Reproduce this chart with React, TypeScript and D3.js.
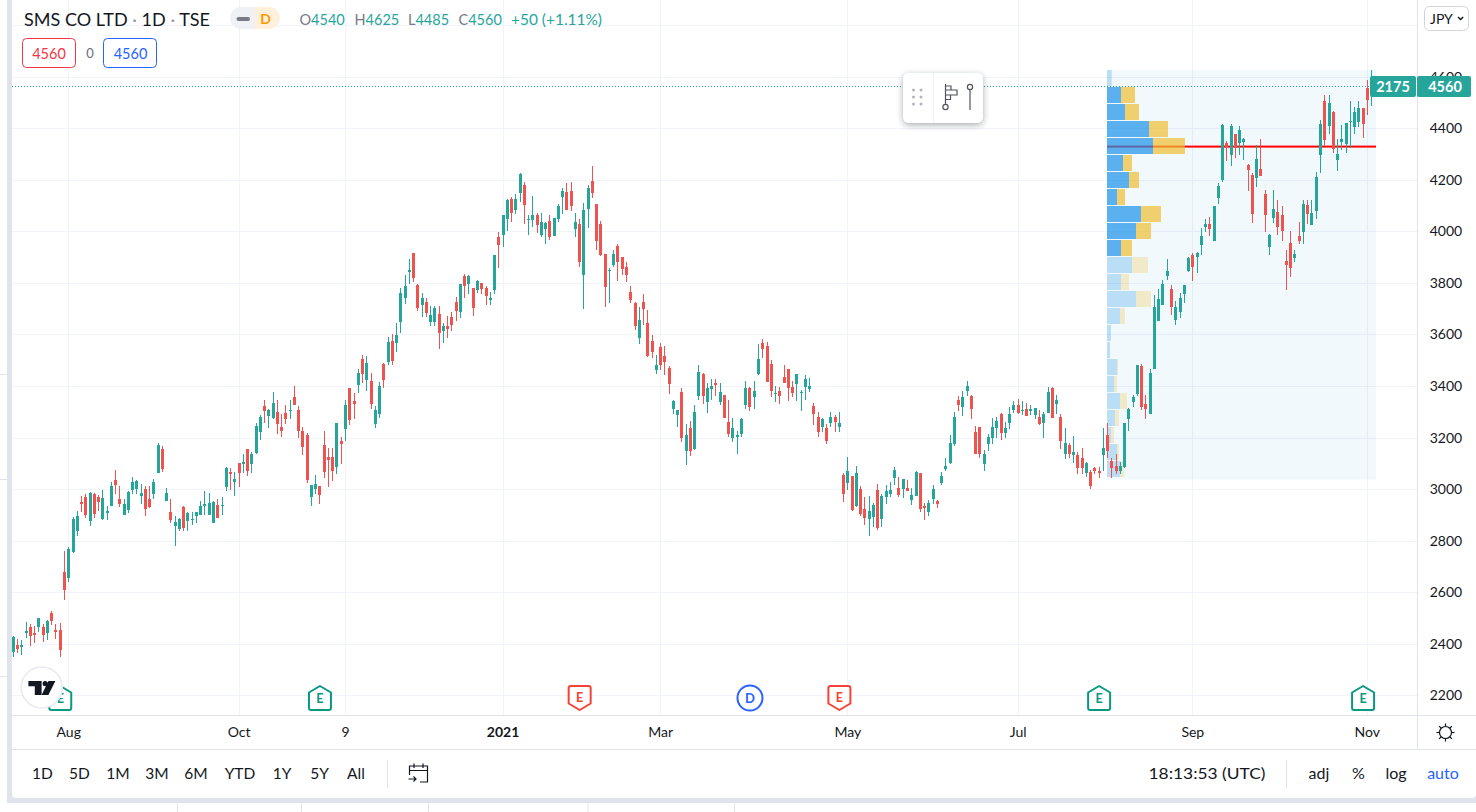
import React from "react";
import * as d3 from "d3";

type Bar = [number, number, number, number]; // open, high, low, close

const barsJul2020: Bar[] = [
  [2368,2431,2349,2427],[2394,2419,2363,2379],[2388,2415,2357,2396],[2442,2485,2423,2450],[2465,2477,2392,2431],
  [2442,2469,2403,2434],[2465,2500,2446,2500],[2465,2477,2407,2434],[2442,2493,2415,2489],[2520,2527,2473,2489],
  [2454,2477,2419,2446],[2454,2481,2349,2376],[2679,2760,2570,2609],[2655,2775,2640,2768],[2756,2892,2752,2884],
  [2838,2915,2818,2896],[2950,2973,2911,2942],[2970,2981,2888,2900],[2876,2989,2857,2985],[2981,2985,2888,2904],
  [2970,2977,2915,2950],[2884,2997,2880,2966],[2907,2935,2880,2915],[2935,3028,2935,3012],[3035,3074,2981,3016],
  [2962,3012,2931,2942],[2900,2962,2900,2942],[2919,2993,2907,2989],[2997,3047,2981,3028],[3001,3035,2981,3032],
];
const barsSep2020: Bar[] = [
  [2973,3020,2942,2985],[3001,3012,2896,2923],[2962,3012,2927,2931],[2981,3039,2962,3028],[3063,3179,3063,3171],
  [3156,3167,3067,3078],[2954,3004,2954,2985],[2911,2962,2869,2880],[2857,2896,2779,2873],[2845,2888,2838,2884],
  [2931,2935,2838,2849],[2876,2911,2838,2907],[2880,2911,2861,2884],[2896,2911,2869,2911],[2900,2954,2900,2935],
  [2935,2993,2900,2942],[2900,2985,2900,2946],[2869,2954,2869,2950],[2939,2962,2888,2888],[2935,2970,2900,2939],
  [3008,3086,2993,3082],[3067,3082,2997,3059],[3028,3067,2973,3039],[3101,3101,3008,3063],[3098,3136,3063,3105],
  [3156,3156,3051,3070],[3098,3144,3063,3136],[3140,3257,3136,3245],[3222,3288,3191,3280],[3323,3346,3257,3303],
];
const barsOct2020: Bar[] = [
  [3284,3311,3237,3307],[3276,3377,3272,3334],[3299,3346,3214,3253],[3241,3292,3202,3226],[3296,3327,3253,3272],
  [3303,3346,3272,3307],[3358,3400,3327,3327],[3307,3323,3199,3226],[3226,3241,3133,3164],[3210,3218,3024,3036],
  [2970,3016,2935,3016],[3001,3055,2981,3020],[3012,3012,2942,2977],[3171,3226,3043,3067],[3125,3160,3008,3113],
  [3125,3160,3032,3070],[3086,3257,3059,3257],[3187,3202,3098,3175],[3233,3346,3187,3327],[3392,3392,3249,3268],
  [3342,3373,3272,3330],[3404,3466,3373,3451],[3505,3520,3412,3447],[3424,3517,3381,3489],[3420,3451,3311,3330],
  [3253,3323,3237,3307],[3292,3416,3276,3400],[3486,3489,3392,3424],[3493,3590,3482,3571],[3575,3602,3482,3497],
];
const barsDec2020: Bar[] = [
  [3567,3645,3532,3598],[3648,3780,3606,3761],[3742,3831,3718,3788],[3842,3893,3796,3850],[3916,3916,3804,3819],
  [3792,3796,3691,3703],[3714,3761,3668,3742],[3726,3742,3668,3683],[3648,3711,3633,3676],[3648,3711,3633,3703],
  [3680,3711,3544,3606],[3614,3645,3567,3633],[3633,3672,3586,3621],[3668,3687,3614,3637],[3726,3745,3652,3691],
  [3687,3796,3664,3796],[3827,3835,3742,3788],[3796,3831,3757,3827],[3780,3780,3672,3703],[3773,3811,3761,3807],
  [3800,3800,3757,3777],[3780,3788,3714,3749],[3734,3765,3714,3742],[3773,3908,3757,3908],[3978,3998,3858,3947],
  [3986,4064,3939,4064],[4048,4126,4002,4122],[4126,4133,4036,4071],[4083,4145,4067,4126],[4149,4227,4114,4223],
];
const barsJan2021: Bar[] = [
  [4180,4192,4029,4102],[4044,4064,3986,4048],[4044,4137,4017,4064],[4064,4071,3994,4025],[3986,4071,3978,4036],
  [4009,4036,3951,4033],[4040,4064,3967,3978],[3982,4052,3982,4052],[4048,4106,4036,4099],[4133,4168,4067,4157],
  [4153,4188,4083,4083],[4157,4192,4079,4099],[4009,4071,3978,4036],[4029,4048,3862,3881],[3831,4110,3699,4083],
  [4087,4180,4013,4168],[4196,4254,4130,4149],[4106,4106,3928,3963],[4029,4040,3905,3908],[3912,3912,3707,3784],
  [3846,3858,3722,3850],[3870,3928,3862,3912],[3943,3951,3808,3881],[3901,3901,3831,3854],[3862,3881,3804,3831],
  [3765,3788,3722,3734],[3722,3726,3617,3633],[3587,3707,3563,3656],[3726,3757,3637,3699],[3645,3695,3513,3517],
];
const barsMar2021: Bar[] = [
  [3575,3598,3509,3532],[3462,3521,3447,3482],[3552,3567,3462,3482],[3517,3555,3443,3493],[3470,3478,3369,3408],
  [3311,3346,3292,3342],[3288,3307,3241,3307],[3377,3393,3183,3199],[3148,3253,3094,3210],[3237,3265,3129,3148],
  [3156,3327,3152,3299],[3362,3482,3346,3455],[3447,3451,3330,3362],[3338,3412,3296,3393],[3389,3427,3346,3400],
  [3412,3427,3362,3404],[3338,3412,3327,3377],[3365,3365,3276,3276],[3261,3346,3202,3214],[3199,3276,3183,3237],
  [3202,3226,3137,3210],[3214,3276,3202,3272],[3327,3420,3311,3393],[3393,3396,3303,3319],[3358,3420,3311,3381],
  [3447,3563,3443,3505],[3567,3582,3509,3544],[3555,3571,3416,3416],[3485,3501,3358,3381],[3369,3400,3338,3373],
];
const barsApr2021: Bar[] = [
  [3381,3396,3330,3361],[3435,3482,3412,3412],[3466,3466,3342,3392],[3396,3420,3358,3373],[3408,3447,3342,3447],
  [3373,3385,3303,3377],[3396,3443,3346,3427],[3389,3431,3377,3400],[3323,3334,3249,3292],[3280,3299,3202,3222],
  [3241,3276,3222,3272],[3237,3253,3175,3187],[3257,3299,3241,3280],[3280,3288,3222,3260],[3241,3299,3222,3257],
  [3055,3063,2950,2981],[3024,3125,2997,3070],[3051,3051,2915,2919],[2935,3090,2931,3063],[3001,3012,2896,2904],
  [2923,2970,2861,2888],[2884,2973,2818,2915],[2892,2946,2853,2939],[2997,3020,2842,2849],[2884,2981,2853,2973],
  [2970,3016,2942,2993],[2981,3028,2970,2997],[3043,3086,3016,3074],[3004,3047,2970,2977],[3001,3039,2966,3039],
];
const barsJun2021: Bar[] = [
  [3004,3036,2993,2993],[2958,3004,2939,2977],[2973,3070,2973,3067],[3063,3063,2911,2923],[2935,2946,2880,2927],
  [2911,2958,2896,2946],[2962,3016,2942,3001],[2954,2958,2927,2942],[3024,3067,3016,3051],[3078,3121,3070,3090],
  [3101,3210,3098,3179],[3175,3299,3167,3280],[3346,3361,3303,3326],[3319,3381,3284,3358],[3381,3420,3361,3400],
  [3361,3365,3272,3311],[3222,3245,3136,3136],[3241,3241,3121,3136],[3098,3152,3070,3136],[3175,3214,3148,3202],
  [3198,3276,3175,3241],[3237,3280,3198,3264],[3292,3295,3191,3218],[3218,3260,3198,3237],[3257,3319,3233,3292],
  [3307,3342,3295,3326],[3326,3350,3292,3295],[3303,3342,3288,3307],[3311,3334,3284,3284],[3303,3326,3288,3311],
];
const barsJul2021: Bar[] = [
  [3288,3315,3272,3315],[3280,3307,3249,3253],[3257,3299,3198,3292],[3295,3396,3295,3377],[3392,3396,3276,3276],
  [3330,3365,3292,3346],[3280,3292,3156,3187],[3136,3237,3117,3179],[3171,3179,3121,3136],[3132,3206,3101,3144],
  [3132,3144,3059,3082],[3121,3160,3059,3082],[3063,3105,3047,3101],[3067,3074,3001,3012],[3082,3086,3059,3070],
  [3070,3086,3043,3063],[3132,3237,3070,3160],[3210,3257,3121,3148],[3109,3121,3043,3082],[3090,3136,3059,3070],
  [3070,3105,3059,3090],[3086,3257,3082,3257],[3272,3315,3226,3311],[3338,3365,3319,3358],[3369,3482,3361,3482],
  [3478,3486,3307,3319],[3330,3365,3272,3311],[3292,3466,3292,3451],[3466,3753,3466,3707],[3652,3777,3652,3738],
];
const barsSep2021: Bar[] = [
  [3714,3811,3714,3796],[3827,3893,3811,3846],[3777,3792,3676,3707],[3656,3730,3637,3707],[3687,3761,3664,3742],
  [3757,3792,3722,3792],[3846,3902,3842,3897],[3909,3916,3808,3862],[3902,3920,3839,3916],[3947,4013,3909,3982],
  [4017,4048,3998,4029],[4029,4056,3982,4009],[3963,4099,3963,4099],[4130,4188,4106,4176],[4200,4417,4192,4413],
  [4343,4351,4273,4324],[4296,4417,4254,4409],[4378,4378,4285,4324],[4343,4409,4296,4393],[4347,4362,4277,4359],
  [4258,4262,4157,4238],[4219,4227,4033,4068],[4207,4335,4172,4281],[4242,4359,4215,4215],[4145,4161,3998,4064],
];
const barsOct2021: Bar[] = [
  [3940,3990,3909,3986],[4052,4161,4033,4087],[4075,4122,3986,4017],[4064,4099,3963,4002],[3885,3928,3773,3870],
  [3955,4002,3823,3858],[3897,3928,3881,3912],[3982,4037,3951,3963],[3998,4122,3951,4106],[4103,4122,4029,4068],
  [4025,4122,4025,4071],[4079,4231,4048,4211],[4296,4432,4227,4417],[4506,4529,4331,4355],[4409,4529,4378,4498],
  [4463,4467,4304,4320],[4277,4359,4234,4300],[4347,4413,4316,4359],[4339,4421,4304,4421],[4424,4506,4324,4428],
  [4405,4483,4378,4463],[4424,4506,4405,4479],[4479,4479,4362,4417],[4556,4587,4452,4510],[4540,4625,4485,4560],
];

const allBars: Bar[] = [
  ...barsJul2020, ...barsSep2020, ...barsOct2020, ...barsDec2020, ...barsJan2021, ...barsMar2021,
  ...barsApr2021, ...barsJun2021, ...barsJul2021, ...barsSep2021, ...barsOct2021,
];

const priceTicks = [2200, 2400, 2600, 2800, 3000, 3200, 3400, 3600, 3800, 4000, 4200, 4400, 4600];
const extraGridPrices = [4800];
const timeLabels = ["Aug", "Oct", "9", "2021", "Mar", "May", "Jul", "Sep", "Nov"];
const timeBarIndex = [13, 53, 78, 115, 152, 196, 236, 277, 318];
const eventKinds = ["Eg", "Eg", "Er", "D", "Er", "Eg", "Eg"];
const eventBarIndex = [11, 72, 133, 173, 194, 255, 317];
const vpUp = [4.7, 14, 18, 42, 46, 16, 22, 10, 34, 29, 14, 25, 14, 29, 13, 4, 3, 10, 7, 13, 8, 4, 10, 13];
const vpDown = [0, 14, 14, 19, 32, 9, 10, 8, 20, 15, 11, 16, 8, 15, 5, 0, 0, 1, 3, 7, 4, 3, 2, 4];
const vpValueRows = [1, 2, 3, 4, 5, 6, 7, 8, 9, 10];
const vpHigh = 4625;
const vpLow = 3045;
const vpEndPrice = 3037;
const pocPrice = 4329;
const lastClose = 4560;
const rangeButtons = ["1D", "5D", "1M", "3M", "6M", "YTD", "1Y", "5Y", "All"];
const rangeButtonX = [42.5, 79.5, 118, 157, 196, 240, 282, 319.5, 356];
const footerTabX = [177, 301, 428, 587.5, 734];
const sideTickY = [374, 479, 676];

const FONT = "Lato, 'Noto Sans', sans-serif";
const UP = "#26A69A";
const DOWN = "#EF5350";
const GRID = "#F0F3FA";
const BORDER = "#E0E3EB";
const INK = "#131722";
const CHART_RIGHT = 1417;

const y = d3.scaleLinear().domain([2200, 4400]).range([695.3, 128.3]);
const x = d3.scaleLinear().domain([0, 319]).range([13.4, 1371.6]);
const vol = d3.scaleLinear().domain([0, 78]).range([0, 78]);
const VP_LEFT = 1107;
const VP_RIGHT = 1376;

function Candle({ bar, i }: { bar: Bar; i: number }) {
  const [o, h, l, c] = bar;
  const col = Math.floor(x(i));
  const color = c >= o ? UP : DOWN;
  const top = Math.round(y(Math.max(o, c)));
  const bottom = Math.round(y(Math.min(o, c)));
  const hi = Math.round(y(h));
  const lo = Math.round(y(l));
  return (
    <g fill={color}>
      <rect x={col} y={hi} width={1} height={Math.max(lo - hi, 1)} />
      <rect x={col - 1} y={top} width={3} height={Math.max(bottom - top, 1)} />
    </g>
  );
}

function EventMark({ kind, cx }: { kind: string; cx: number }) {
  if (kind === "D") {
    return (
      <g>
        <circle cx={cx} cy={698} r={12.5} fill="#fff" stroke="#2962FF" strokeWidth={2} />
        <text x={cx} y={702.5} textAnchor="middle" fontSize={13} fontWeight={700} fill="#2962FF" fontFamily={FONT}>D</text>
      </g>
    );
  }
  const up = kind === "Eg";
  const color = up ? "#089981" : "#F44336";
  const path = up
    ? `M${cx} 686 L${cx + 11} 692.5 V708 Q${cx + 11} 710 ${cx + 9} 710 H${cx - 9} Q${cx - 11} 710 ${cx - 11} 708 V692.5 Z`
    : `M${cx} 710 L${cx + 11} 703.5 V688 Q${cx + 11} 686 ${cx + 9} 686 H${cx - 9} Q${cx - 11} 686 ${cx - 11} 688 V703.5 Z`;
  return (
    <g>
      <path d={path} fill="#fff" stroke={color} strokeWidth={2} strokeLinejoin="round" />
      <text x={cx} y={up ? 703 : 702} textAnchor="middle" fontSize={12.5} fontWeight={700} fill={color} fontFamily={FONT}>E</text>
    </g>
  );
}

function VolumeProfile() {
  const step = (vpHigh - vpLow) / vpUp.length;
  return (
    <g>
      <rect x={VP_LEFT} y={y(vpHigh)} width={VP_RIGHT - VP_LEFT} height={y(vpEndPrice) - y(vpHigh)} fill="rgba(22,155,222,0.06)" />
      <rect x={VP_LEFT} y={y(pocPrice) - 1} width={VP_RIGHT - VP_LEFT} height={2} fill="#F00" />
      {vpUp.map((u, i) => {
        const top = Math.round(y(vpHigh - i * step));
        const h = Math.round(y(vpHigh - (i + 1) * step)) - top - 1;
        const solid = vpValueRows.includes(i);
        const a = solid ? 0.7 : 0.25;
        return (
          <g key={i}>
            <rect x={VP_LEFT} y={top} width={vol(u)} height={h} fill={`rgba(27,145,232,${a})`} />
            <rect x={VP_LEFT + vol(u)} y={top} width={vol(vpDown[i])} height={h} fill={`rgba(238,190,49,${a})`} />
          </g>
        );
      })}
    </g>
  );
}

export default function App() {
  const lastY = y(lastClose);
  return (
    <svg
      width={1476}
      height={812}
      viewBox="0 0 1476 812"
      style={{ position: "absolute", left: 0, top: 0, display: "block" }}
      fontFamily={FONT}
    >
      <defs>
        <filter id="toolShadow" x="-20%" y="-30%" width="140%" height="170%">
          <feDropShadow dx={0} dy={2} stdDeviation={3} floodColor="#2A2E39" floodOpacity={0.4} />
        </filter>
        <clipPath id="pane"><rect x={12} y={0} width={CHART_RIGHT - 12} height={715} /></clipPath>
      </defs>
      <rect width={1476} height={812} fill="#fff" />
      {sideTickY.map((v) => <rect key={v} x={0} y={v} width={7} height={1} fill={BORDER} />)}
      <rect x={7} y={0} width={5} height={803} fill={BORDER} />
      <rect x={7} y={798} width={1469} height={5} fill={BORDER} />
      <path d="M12 798 h0 v-4 q0 4 4 4 z" fill={BORDER} />
      <path d="M1476 798 h-4 q4 0 4 -4 z" fill={BORDER} />

      {/* footer tabs */}
      {footerTabX.map((v) => <rect key={v} x={v} y={803} width={1} height={9} fill={BORDER} />)}

      <g clipPath="url(#pane)">
        {[...priceTicks, ...extraGridPrices].map((p) => (
          <rect key={p} x={12} y={Math.round(y(p))} width={CHART_RIGHT - 12} height={1} fill={GRID} />
        ))}
        {timeBarIndex.map((t) => (
          <rect key={t} x={Math.floor(x(t))} y={0} width={1} height={715} fill={GRID} />
        ))}
        <line x1={12} x2={1370} y1={Math.round(lastY) - 0.5} y2={Math.round(lastY) - 0.5} stroke={UP} strokeWidth={1} strokeDasharray="1 2" />
        <VolumeProfile />
        {allBars.map((b, i) => <Candle key={i} bar={b} i={i} />)}
        {eventBarIndex.map((t, i) => <EventMark key={t} kind={eventKinds[i]} cx={x(t)} />)}
      </g>

      {/* TradingView mark */}
      <circle cx={41.7} cy={687.5} r={20.5} fill="#fff" stroke="#E8EAEF" strokeWidth={1.5} />
      <path d="M28.4 681 H41.6 V695 H34.8 V686.2 H28.4 Z" fill={INK} />
      <circle cx={45.2} cy={683.6} r={2.6} fill={INK} />
      <path d="M48.5 681 H55.4 L48.4 695 H41.6 Z" fill={INK} />

      {/* axes */}
      <rect x={12} y={715} width={1464} height={1} fill={BORDER} />
      <rect x={12} y={749} width={1464} height={1} fill={BORDER} />
      <rect x={CHART_RIGHT} y={0} width={1} height={750} fill={BORDER} />
      {priceTicks.map((p) => (
        <text key={p} x={1446} y={y(p) + 5} textAnchor="middle" fontSize={14} fill={INK}>{p}</text>
      ))}
      {timeLabels.map((t, i) => (
        <text key={t} x={x(timeBarIndex[i])} y={737} textAnchor="middle" fontSize={14} fontWeight={t === "2021" ? 700 : 400} fill={INK}>{t}</text>
      ))}

      {/* last value labels */}
      <rect x={1370} y={76} width={46} height={21} rx={2} fill={UP} />
      <text x={1393} y={92} textAnchor="middle" fontSize={14.5} fontWeight={700} fill="#fff">2175</text>
      <rect x={1417} y={76} width={54} height={21} rx={2} fill={UP} />
      <text x={1445} y={92} textAnchor="middle" fontSize={14.5} fontWeight={700} fill="#fff">4560</text>

      {/* drawing toolbar */}
      <rect x={903} y={73} width={80} height={50} rx={6} fill="#fff" filter="url(#toolShadow)" />
      <rect x={933} y={73} width={1} height={50} fill="#F0F3FA" />
      {[913.5, 921].map((dx) => [90, 97, 104].map((dy) => (
        <circle key={`${dx}-${dy}`} cx={dx} cy={dy} r={1.5} fill="#B2B5BE" />
      )))}
      <g stroke="#50535E" strokeWidth={1.2} fill="none">
        <path d="M945.5 84 V104.5" />
        <circle cx={945.5} cy={107} r={2.6} />
        <path d="M945.5 86 H951 V90 H945.5 M945.5 90 H957 V95 H945.5 M945.5 95 H950.5 V99.5 H945.5" />
        <circle cx={970} cy={87} r={2.6} />
        <path d="M970 89.6 V110" />
      </g>

      {/* header */}
      <text x={24} y={26} fontSize={17} fill={INK} textLength={186} lengthAdjust="spacingAndGlyphs">
        SMS CO LTD<tspan fill="#9598A1"> · </tspan>1D<tspan fill="#9598A1"> · </tspan>TSE
      </text>
      <path d="M241 7 H255 V29 H241 A11 11 0 0 1 241 7 Z" fill="#EFF1F4" />
      <path d="M255 7 H269 A11 11 0 0 1 269 29 H255 Z" fill="#FFF0DC" />
      <rect x={236.5} y={17} width={13.5} height={4} rx={2} fill="#787B86" />
      <text x={265.5} y={24} textAnchor="middle" fontSize={14} fontWeight={700} fill="#FF9800">D</text>
      {([
        ["O", "4540", 299.5], ["H", "4625", 354.5], ["L", "4485", 408], ["C", "4560", 458.5],
      ] as [string, string, number][]).map(([k, v, px]) => (
        <text key={k} x={px} y={25} fontSize={14.5}>
          <tspan fill="#787B86">{k}</tspan><tspan fill={UP}>{v}</tspan>
        </text>
      ))}
      <text x={511} y={25} fontSize={14.5} fill={UP} textLength={91} lengthAdjust="spacingAndGlyphs">+50 (+1.11%)</text>

      <rect x={22.5} y={38.5} width={53} height={29} rx={4} fill="#fff" stroke="#F23645" />
      <text x={49} y={58.5} textAnchor="middle" fontSize={14.5} fill="#F23645">4560</text>
      <text x={90} y={58} textAnchor="middle" fontSize={13} fill="#6A6D78">0</text>
      <rect x={103.5} y={38.5} width={53} height={29} rx={4} fill="#fff" stroke="#2962FF" />
      <text x={130.5} y={58.5} textAnchor="middle" fontSize={14.5} fill="#2962FF">4560</text>

      {/* currency */}
      <rect x={1424.5} y={6.5} width={44} height={24} rx={5} fill="#fff" stroke="#D1D4DC" />
      <text x={1430} y={24} fontSize={14} fill={INK}>JPY</text>
      <path d="M1458 17 L1460.6 19.6 L1463.2 17" fill="none" stroke={INK} strokeWidth={1.4} />

      {/* gear */}
      <g stroke={INK} strokeWidth={1.2} fill="none">
        <circle cx={1445.5} cy={732.5} r={6} />
        {d3.range(8).map((k) => {
          const a = (k * Math.PI) / 4;
          return (
            <line key={k} x1={1445.5 + 6 * Math.cos(a)} y1={732.5 + 6 * Math.sin(a)} x2={1445.5 + 9 * Math.cos(a)} y2={732.5 + 9 * Math.sin(a)} />
          );
        })}
      </g>

      {/* bottom toolbar */}
      {rangeButtons.map((t, i) => (
        <text key={t} x={rangeButtonX[i]} y={779} textAnchor="middle" fontSize={15.5} fill={INK}>{t}</text>
      ))}
      <rect x={387} y={760} width={1} height={28} fill={BORDER} />
      <g stroke={INK} strokeWidth={1.2} fill="none">
        <path d="M420 782 H427.5 V766 H409.5 V775 M409.5 770.5 H427.5 M414 763.5 V768 M423 763.5 V768 M408.5 779 H416 M413.5 776.5 L416 779 L413.5 781.5" />
      </g>
      <text x={1207} y={779} textAnchor="middle" fontSize={16} fill={INK} textLength={117} lengthAdjust="spacingAndGlyphs">18:13:53 (UTC)</text>
      <rect x={1286} y={760} width={1} height={28} fill={BORDER} />
      <text x={1319} y={779} textAnchor="middle" fontSize={16} fill={INK}>adj</text>
      <text x={1358.5} y={779} textAnchor="middle" fontSize={16} fill={INK}>%</text>
      <text x={1396} y={779} textAnchor="middle" fontSize={16} fill={INK}>log</text>
      <text x={1443} y={779} textAnchor="middle" fontSize={16} fill="#2962FF">auto</text>
    </svg>
  );
}
